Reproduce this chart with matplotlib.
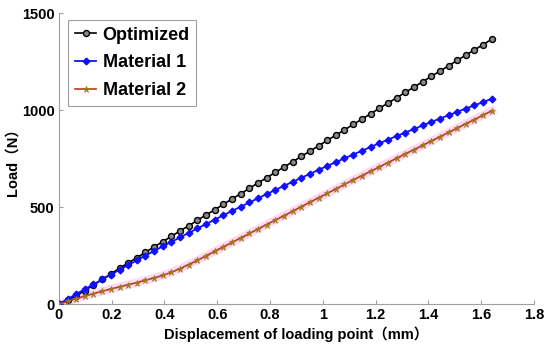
import matplotlib as mpl
mpl.use('agg')
import matplotlib.pyplot as plt

plt.rcParams['font.family'] = ['Liberation Sans', 'Noto Sans CJK SC', 'DejaVu Sans']
plt.rcParams['font.weight'] = 'bold'

# displacement of loading point (mm)
disp = [0.000, 0.033, 0.066, 0.098, 0.131, 0.164, 0.197, 0.230, 0.262, 0.295,
        0.328, 0.361, 0.394, 0.426, 0.459, 0.492, 0.525, 0.558, 0.590, 0.623,
        0.656, 0.689, 0.722, 0.754, 0.787, 0.820, 0.853, 0.886, 0.918, 0.951,
        0.984, 1.017, 1.050, 1.082, 1.115, 1.148, 1.181, 1.214, 1.246, 1.279,
        1.312, 1.345, 1.378, 1.410, 1.443, 1.476, 1.509, 1.542, 1.574, 1.607,
        1.640]

# load (N)
load_opt = [0, 20, 44, 70, 98, 127, 156, 185, 212, 239,
            267, 295, 322, 349, 377, 404, 432, 460, 486, 514,
            542, 569, 597, 624, 651, 679, 706, 734, 761, 788,
            816, 844, 871, 898, 926, 953, 981, 1009, 1035, 1063,
            1091, 1118, 1146, 1173, 1200, 1228, 1256, 1283, 1310, 1337,
            1365]
load_m1 = [0, 26, 52, 77, 102, 127, 152, 177, 201, 225,
           250, 274, 298, 320, 344, 367, 390, 413, 435, 458,
           480, 502, 524, 545, 567, 588, 610, 630, 651, 671,
           692, 712, 732, 751, 771, 790, 810, 829, 847, 866,
           884, 902, 921, 938, 956, 973, 991, 1008, 1024, 1041,
           1058]
load_m2 = [0, 14, 28, 41, 54, 66, 78, 89, 100, 111,
           123, 135, 148, 164, 183, 204, 226, 249, 272, 295,
           318, 341, 364, 387, 410, 433, 456, 479, 502, 525,
           548, 571, 594, 617, 640, 662, 685, 707, 729, 751,
           774, 796, 818, 840, 862, 885, 907, 930, 951, 974,
           996]

series_names = ['Optimized', 'Material 1', 'Material 2']

fig = plt.figure(figsize=(5.5, 3.52), dpi=100)
ax = fig.add_axes([0.107, 0.136, 0.864, 0.827])

ax.plot(disp, load_opt, color='black', lw=1.2, marker='o', ms=4.3,
        mfc='#8a8a8a', mec='black', mew=1.0, label=series_names[0], zorder=3)
ax.plot(disp, load_m1, color='#1010ff', lw=1.3, marker='D', ms=3.4,
        mfc='#1010ff', mec='#1010ff', label=series_names[1], zorder=3)
ax.plot(disp, load_m2, color='#ffd0f0', lw=6, alpha=0.8, zorder=2)
ax.plot(disp, load_m2, color='#c03a18', lw=1.2, marker='*', ms=5,
        mfc='#9a7a20', mec='#9a7a20', mew=0.5, label=series_names[2], zorder=3)

ax.set_xlim(0, 1.8)
ax.set_ylim(0, 1500)
ax.set_xticks([0, 0.2, 0.4, 0.6, 0.8, 1, 1.2, 1.4, 1.6, 1.8])
ax.set_xticklabels(['0', '0.2', '0.4', '0.6', '0.8', '1', '1.2', '1.4', '1.6', '1.8'])
ax.set_yticks([0, 500, 1000, 1500])

for s in ['top', 'right']:
    ax.spines[s].set_visible(False)
for s in ['left', 'bottom']:
    ax.spines[s].set_color('#a0a0a0')
    ax.spines[s].set_linewidth(0.8)
ax.tick_params(direction='in', length=3, color='#a0a0a0', labelsize=10.5,
               pad=3)
for lab in ax.get_xticklabels() + ax.get_yticklabels():
    lab.set_fontweight('bold')

ax.set_xlabel('Displacement of loading point（mm）', fontsize=10.5,
              fontweight='bold', labelpad=3)
ax.set_ylabel('Load（N）', fontsize=10.5, fontweight='bold', labelpad=2)

leg = ax.legend(loc='upper left', bbox_to_anchor=(0.02, 0.975),
                prop={'weight': 'bold', 'size': 13}, handlelength=1.2,
                handletextpad=0.35, borderpad=0.35, labelspacing=0.6,
                borderaxespad=0.0, fancybox=False, framealpha=1)
leg.get_frame().set_edgecolor('#a0a0a0')
leg.get_frame().set_linewidth(0.8)

fig.savefig('out.png', dpi=100)
